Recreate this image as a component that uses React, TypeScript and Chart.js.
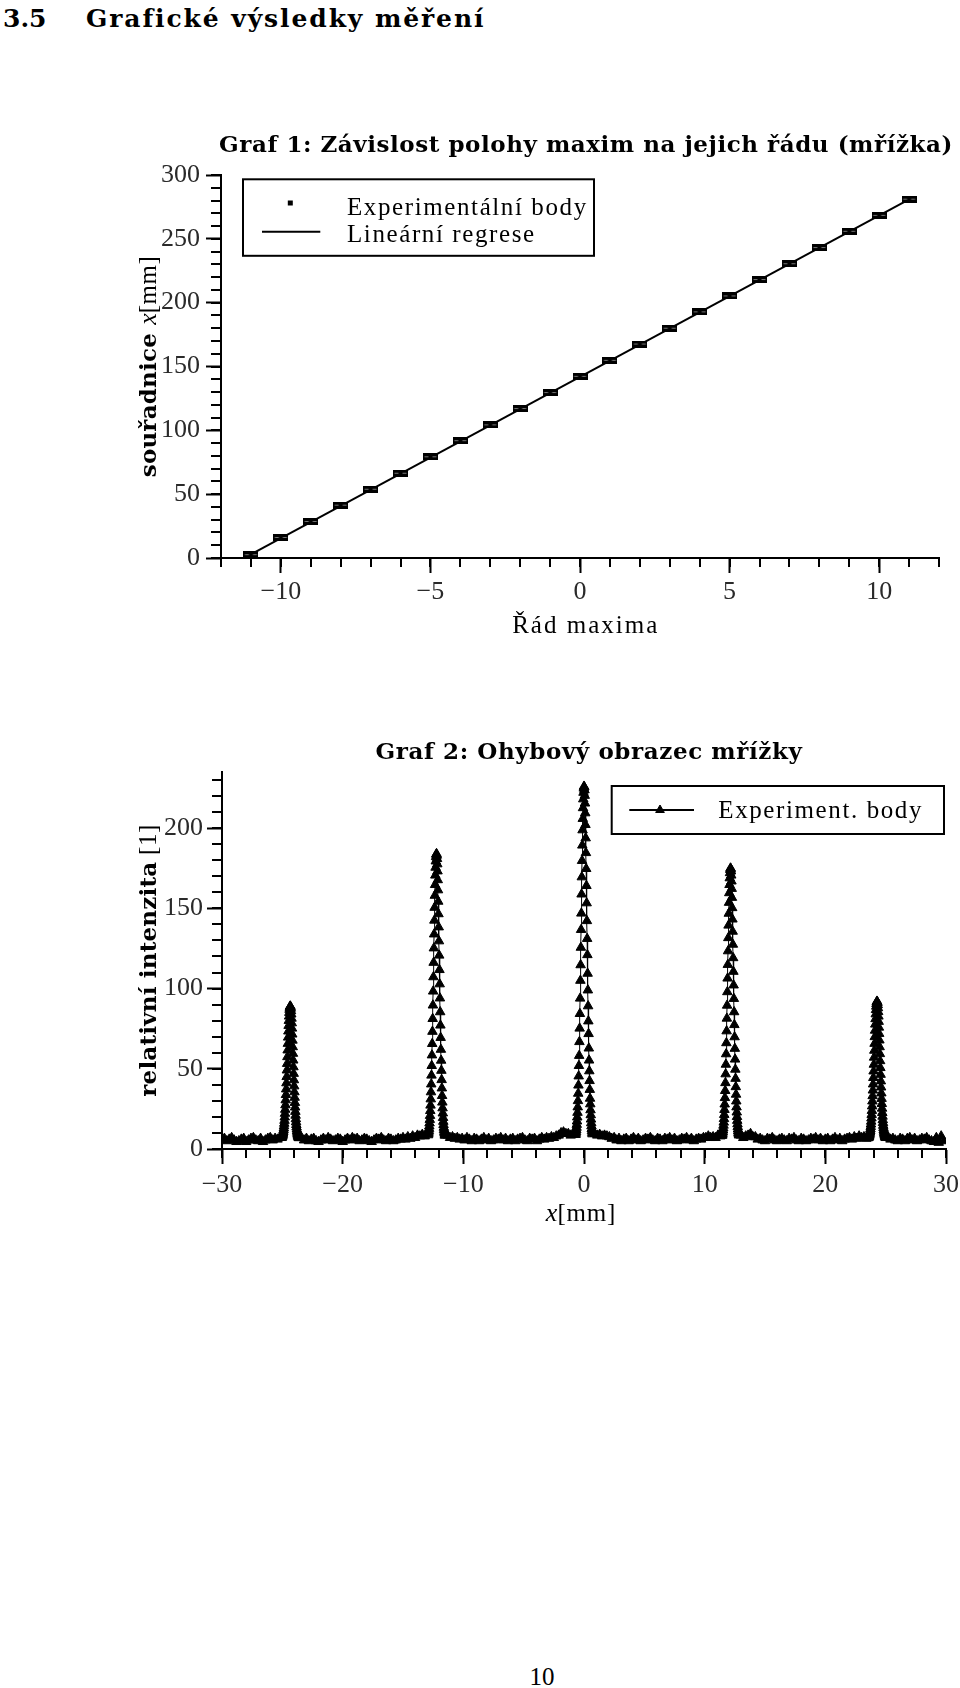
import React, { useEffect, useRef } from 'react';
import { Chart, registerables } from 'chart.js';

Chart.register(...registerables);

// ---------------- Graf 1 : data ----------------
const ORDERS = [-11, -10, -9, -8, -7, -6, -5, -4, -3, -2, -1, 0, 1, 2, 3, 4, 5, 6, 7, 8, 9, 10, 11];
const POSITIONS_MM = [2.6, 16.1, 28.6, 41.4, 53.9, 66.4, 79.3, 91.9, 104.3, 117.1, 129.6, 142.3, 154.8, 167.6, 180.0, 192.8, 205.3, 218.1, 230.5, 243.2, 255.9, 268.4, 281.1];
const REGRESSION_ORDERS = [-11, 11];
const REGRESSION_MM = [2.8, 281.0];
const GRAF1_X_TICKS = [-10, -5, 0, 5, 10];
const GRAF1_Y_TICKS = [0, 50, 100, 150, 200, 250, 300];

// ---------------- Graf 2 : data ----------------
const GRAF2_X_TICKS = [-30, -20, -10, 0, 10, 20, 30];
const GRAF2_Y_TICKS = [0, 50, 100, 150, 200];

const BASE_STEP = 0.2; // mm between background samples
const BASE_1 = [6.5, 5.0, 6.0, 7.0, 5.5, 4.5, 5.0, 6.0, 6.5, 4.5,
  5.5, 6.5, 7.0, 5.5, 5.0, 6.5, 4.5, 5.5, 6.5, 7.0,
  5.5, 6.5, 6.0, 7.0];
const PEAK_M24 = [7.0, 7.3, 7.6, 8.0, 8.5, 9.1, 9.8, 10.7, 11.7, 12.9, 14.3, 15.9, 17.7, 19.8, 22.1, 24.6, 27.4, 30.5,
  33.8, 37.3, 41.1, 45.0, 49.1, 53.2, 57.4, 61.6, 65.7, 69.6, 73.4, 76.9, 80.0, 82.7, 85.0, 86.9, 88.1, 88.8,
  89.0, 88.6, 87.6, 86.0, 84.0, 81.4, 78.5, 75.2, 71.5, 67.7, 63.6, 59.5, 55.3, 51.1, 47.0, 43.0, 39.2, 35.5,
  32.1, 28.9, 26.0, 23.3, 20.9, 18.7, 16.8, 15.1, 13.6, 12.3, 11.2, 10.3, 9.5, 8.8, 8.2, 7.8, 7.4, 7.1, 6.9];
const BASE_2 = [7.0, 5.5, 6.5, 5.0, 6.0, 6.5, 5.0, 4.5, 5.5, 6.5,
  5.5, 7.0, 6.0, 5.0, 5.5, 6.5, 6.0, 4.5, 5.5, 6.5,
  5.5, 7.0, 6.0, 6.5, 5.0, 5.5, 6.5, 6.0, 5.0, 4.5,
  5.5, 6.5, 6.0, 7.0, 5.5, 5.0, 6.5, 6.0, 5.0, 5.5,
  6.5, 6.0, 7.0, 6.0, 7.5, 6.5, 8.0, 7.0, 8.5, 8.0,
  9.0, 8.0];
const PEAK_M12 = [8.7, 9.4, 10.3, 11.4, 12.7, 14.2, 16.1, 18.3, 20.8, 23.8, 27.2, 31.1, 35.5, 40.4, 45.9, 51.9, 58.5, 65.6, 73.2, 81.2,
  89.6, 98.3, 107.2, 116.2, 125.2, 133.9, 142.5, 150.5, 158.0, 164.7, 170.6, 175.5, 179.4, 182.1, 183.6,
  184.0, 183.0, 180.9, 177.6, 173.2, 167.7, 161.4, 154.3, 146.5, 138.3, 129.6, 120.7, 111.7, 102.8, 94.0, 85.4, 77.1, 69.4,
  62.0, 55.2, 48.9, 43.1, 37.9, 33.2, 29.1, 25.5, 22.3, 19.5, 17.1, 15.1, 13.4, 12.0, 10.8, 9.8, 9.0, 8.4];
const BASE_3 = [8.5, 7.0, 7.5, 6.5, 7.0, 6.0, 6.5, 5.5, 7.0, 6.0,
  5.0, 6.5, 6.0, 5.0, 6.0, 7.0, 5.5, 6.5, 5.0, 5.5,
  6.5, 6.0, 7.0, 5.5, 6.5, 5.0, 6.0, 6.5, 5.0, 6.0,
  6.5, 7.0, 5.5, 5.0, 6.5, 6.0, 6.5, 5.0, 6.0, 7.0,
  6.0, 7.0, 6.5, 7.5, 7.0, 8.0, 8.5, 10.0, 10.5, 9.5,
  9.5, 8.5, 9.5];
const PEAK_0 = [8.9, 9.7, 10.7, 11.9, 13.4, 15.2, 17.3, 19.8, 22.7, 26.1, 30.0, 34.6, 39.7, 45.4, 51.9, 58.2, 66.8, 75.2, 84.3, 93.9,
  105.0, 114.7, 125.6, 136.7, 146.9, 158.8, 169.5, 179.7, 189.3, 198.8, 205.9, 212.6, 218.1, 222.2, 224.8, 226.0,
  225.6, 223.7, 220.3, 215.5, 209.4, 202.1, 193.8, 184.6, 174.7, 164.1, 153.3, 142.2, 131.1, 121.0, 109.4, 99.0, 89.1, 79.7,
  71.8, 62.8, 55.3, 48.6, 42.5, 37.0, 31.5, 28.0, 24.3, 21.2, 18.5, 16.2, 14.3, 12.6, 11.3, 10.2, 9.3];
const BASE_4 = [9.5, 8.5, 9.0, 8.0, 8.5, 8.0, 7.5, 6.5, 7.0, 5.5,
  6.5, 5.0, 6.0, 6.5, 5.0, 6.0, 7.0, 5.5, 6.5, 5.0,
  5.5, 6.5, 6.0, 7.0, 5.5, 5.0, 6.5, 6.0, 5.0, 6.5,
  6.0, 7.0, 5.5, 6.5, 5.0, 5.5, 6.5, 6.0, 7.0, 5.5,
  6.5, 5.0, 6.0, 6.5, 6.0, 7.0, 7.0, 8.0, 7.0, 7.5,
  7.0, 8.5, 8.0];
const PEAK_P12 = [8.3, 8.9, 9.6, 10.6, 11.7, 13.0, 14.7, 16.6, 18.8, 21.4, 24.5, 27.9, 31.9, 36.3, 41.2, 46.7, 52.7, 59.2, 66.1, 73.5,
  81.4, 89.5, 97.9, 106.4, 114.9, 123.4, 131.6, 139.4, 146.8, 153.6, 159.6, 164.7, 168.9, 172.1, 174.1, 175.0,
  174.7, 173.2, 170.6, 166.9, 162.3, 156.7, 150.3, 143.2, 135.6, 127.5, 119.1, 110.6, 102.1, 93.7, 85.4, 77.4, 69.8,
  62.6, 55.9, 49.6, 43.9, 38.7, 34.0, 29.8, 26.1, 22.9, 20.1, 17.7, 15.6, 13.8, 12.3, 11.1, 10.1, 9.2, 8.6];
const BASE_5 = [8.5, 7.0, 8.0, 8.5, 9.5, 7.5, 7.5, 6.0, 6.5, 5.5,
  5.0, 6.5, 6.0, 7.0, 5.5, 5.0, 6.0, 6.5, 5.5, 5.0,
  6.5, 6.0, 7.0, 5.5, 5.0, 6.5, 6.0, 5.0, 5.5, 6.5,
  6.0, 7.0, 5.5, 6.5, 5.0, 6.0, 6.5, 5.0, 6.0, 7.0,
  5.5, 6.5, 5.0, 6.0, 6.5, 7.0, 6.0, 7.5, 6.5, 8.0,
  7.0, 7.5, 6.5];
const PEAK_P24 = [6.9, 7.2, 7.5, 7.8, 8.3, 8.9, 9.6, 10.4, 11.4, 12.5, 13.9, 15.4, 17.2, 19.2, 21.4, 23.9, 26.7, 29.8, 33.1,
  36.6, 40.4, 44.4, 48.5, 52.7, 57.1, 61.4, 65.7, 69.9, 73.9, 77.7, 81.1, 84.1, 86.8, 88.9, 90.5, 91.5, 92.0,
  91.8, 91.1, 89.8, 87.9, 85.5, 82.7, 79.4, 75.8, 71.9, 67.8, 63.6, 59.3, 54.9, 50.6, 46.4, 42.3, 38.5, 34.8,
  31.4, 28.2, 25.3, 22.6, 20.3, 18.1, 16.3, 14.6, 13.2, 11.9, 10.9, 10.0, 9.2, 8.6, 8.1, 7.7, 7.3, 7.0];
const BASE_6 = [7.5, 6.0, 6.5, 5.5, 5.0, 6.5, 6.0, 5.0, 6.5, 7.0,
  5.5, 6.5, 5.0, 5.5, 6.5, 6.0, 7.0, 5.5, 5.0, 4.5,
  7.0, 4.0, 8.0, 5.0];

// segment table: start position [mm], sample spacing [mm], intensities
const SEGMENTS = [
  { x0: -29.8, dx: BASE_STEP, y: BASE_1 },
  { x0: -25.06, dx: 0.02, y: PEAK_M24 },
  { x0: -23.4, dx: BASE_STEP, y: BASE_2 },
  { x0: -12.92, dx: 0.02, y: PEAK_M12 },
  { x0: -11.3, dx: BASE_STEP, y: BASE_3 },
  { x0: -0.7, dx: 0.02, y: PEAK_0 },
  { x0: 0.9, dx: BASE_STEP, y: BASE_4 },
  { x0: 11.44, dx: 0.02, y: PEAK_P12 },
  { x0: 13.0, dx: BASE_STEP, y: BASE_5 },
  { x0: 23.56, dx: 0.02, y: PEAK_P24 },
  { x0: 25.2, dx: BASE_STEP, y: BASE_6 },
];

// ---------------- styling ----------------
const SERIF = '"Liberation Serif", serif';
const BOLDSERIF = '"DejaVu Serif", serif';
const TICK_FONT = { family: SERIF, size: 26 };
const TITLE_FONT = `bold 23px ${BOLDSERIF}`;
const AXIS_BOLD = `bold 23px ${BOLDSERIF}`;
const TEXT_FONT = `25px ${SERIF}`;
const ITALIC_FONT = `italic 26px ${SERIF}`;
const LEGEND_LS = 1.6;
const AXIS_LS = 2.0;

type Seg = { t: string; f: string; ls?: number };

function drawRich(ctx: CanvasRenderingContext2D, segs: Seg[], x: number, y: number, align: 'center' | 'left' = 'center', rotate = false) {
  ctx.save();
  ctx.translate(x, y);
  if (rotate) ctx.rotate(-Math.PI / 2);
  ctx.textBaseline = 'alphabetic';
  ctx.textAlign = 'left';
  ctx.fillStyle = '#000';
  const widths = segs.map((s) => {
    ctx.font = s.f;
    (ctx as any).letterSpacing = (s.ls ?? 0) + 'px';
    return ctx.measureText(s.t).width;
  });
  const total = widths.reduce((a, b) => a + b, 0);
  let cx = align === 'left' ? 0 : -total / 2;
  segs.forEach((s, i) => {
    ctx.font = s.f;
    (ctx as any).letterSpacing = (s.ls ?? 0) + 'px';
    ctx.fillText(s.t, cx, 0);
    cx += widths[i];
  });
  ctx.restore();
}

function drawMinorTicks(chart: Chart, axis: 'x' | 'y', step: number, len: number) {
  const s: any = chart.scales[axis];
  const ctx = chart.ctx;
  const ca = chart.chartArea;
  ctx.save();
  ctx.strokeStyle = '#000';
  ctx.lineWidth = 2;
  ctx.beginPath();
  const start = Math.ceil(s.min / step - 1e-9) * step;
  for (let v = start; v <= s.max + 1e-9; v += step) {
    const p = Math.round(s.getPixelForValue(v));
    if (axis === 'x') {
      ctx.moveTo(p, ca.bottom);
      ctx.lineTo(p, ca.bottom + len);
    } else {
      ctx.moveTo(ca.left, p);
      ctx.lineTo(ca.left - len, p);
    }
  }
  ctx.stroke();
  ctx.restore();
}

const fmtTick = (v: number | string) => {
  const n = Number(v);
  return n < 0 ? '\u2212' + Math.abs(n) : String(n);
};

function axisCommon(ticks: number[], tickPad: number, fixed: { w?: number; h?: number }) {
  return {
    type: 'linear' as const,
    afterBuildTicks: (scale: any) => {
      scale.ticks = ticks.map((v) => ({ value: v }));
    },
    afterFit: (scale: any) => {
      if (fixed.w !== undefined) scale.width = fixed.w;
      if (fixed.h !== undefined) scale.height = fixed.h;
      scale.paddingLeft = 0;
      scale.paddingRight = 0;
      scale.paddingTop = 0;
      scale.paddingBottom = 0;
    },
    grid: { display: true, drawOnChartArea: false, drawTicks: true, tickLength: 15, tickWidth: 2, tickColor: '#000' },
    border: { display: true, color: '#000', width: 2 },
    ticks: {
      padding: tickPad,
      font: TICK_FONT,
      color: '#2a2a2a',
      autoSkip: false,
      maxRotation: 0,
      minRotation: 0,
      callback: (v: any) => fmtTick(v),
    },
  };
}

// error-bar glyph used for the measured points of Graf 1
function makeErrorMarker() {
  const c = document.createElement('canvas');
  c.width = 15;
  c.height = 7;
  const g = c.getContext('2d')!;
  g.fillStyle = '#000';
  g.fillRect(0, 0, 15, 7);
  g.fillStyle = '#777';
  g.fillRect(1.5, 3, 12, 1);
  g.fillStyle = '#000';
  g.fillRect(5.5, 2, 4, 3);
  return c;
}

function config1(): any {
  const marker = makeErrorMarker();
  const overlay = {
    id: 'graf1Overlay',
    afterDraw(chart: any) {
      const ctx: CanvasRenderingContext2D = chart.ctx;
      const ca = chart.chartArea;
      drawMinorTicks(chart, 'x', 1, 9);
      drawMinorTicks(chart, 'y', 10, 10);
      drawRich(ctx, [{ t: 'Graf 1: Závislost polohy maxim na jejich řádu (mřížka)', f: TITLE_FONT, ls: 0.55 }], 586, 51.5);
      drawRich(ctx, [{ t: 'Řád maxima', f: TEXT_FONT, ls: AXIS_LS }], 585.7, 532.7);
      drawRich(
        ctx,
        [
          { t: 'souřadnice ', f: AXIS_BOLD, ls: 0.2 },
          { t: 'x', f: ITALIC_FONT },
          { t: '[mm]', f: TEXT_FONT, ls: 0.5 },
        ],
        156,
        (ca.top + ca.bottom) / 2,
        'center',
        true
      );
      // legend
      const bx = ca.left + 22;
      const by = ca.top + 4.3;
      const bw = 351;
      const bh = 76.5;
      ctx.save();
      ctx.fillStyle = '#fff';
      ctx.fillRect(bx, by, bw, bh);
      ctx.strokeStyle = '#000';
      ctx.lineWidth = 2;
      ctx.strokeRect(bx, by, bw, bh);
      ctx.fillStyle = '#000';
      ctx.fillRect(bx + 44.8, by + 21.2, 5, 5);
      ctx.beginPath();
      ctx.moveTo(bx + 19, by + 52.4);
      ctx.lineTo(bx + 77.3, by + 52.4);
      ctx.stroke();
      ctx.restore();
      const ds = chart.data.datasets;
      drawRich(ctx, [{ t: ds[0].label, f: TEXT_FONT, ls: LEGEND_LS }], bx + 104, by + 35.7, 'left');
      drawRich(ctx, [{ t: ds[1].label, f: TEXT_FONT, ls: LEGEND_LS }], bx + 104, by + 62.4, 'left');
    },
  };
  return {
    type: 'scatter',
    data: {
      datasets: [
        {
          label: 'Experimentální body',
          data: ORDERS.map((o, i) => ({ x: o, y: POSITIONS_MM[i] })),
          pointStyle: marker,
          pointRadius: 5,
          showLine: false,
          clip: false,
        },
        {
          label: 'Lineární regrese',
          data: REGRESSION_ORDERS.map((o, i) => ({ x: o, y: REGRESSION_MM[i] })),
          showLine: true,
          borderColor: '#000',
          borderWidth: 2,
          pointRadius: 0,
        },
      ],
    },
    options: {
      animation: false,
      responsive: false,
      events: [],
      layout: { padding: { top: 75, right: 21, bottom: 0, left: 0 } },
      plugins: { legend: { display: false }, tooltip: { enabled: false }, title: { display: false } },
      scales: {
        x: { ...axisCommon(GRAF1_X_TICKS, 4, { h: 102 }), min: -12, max: 12, position: 'bottom' },
        y: { ...axisCommon(GRAF1_Y_TICKS, 6, { w: 221 }), min: 0, max: 300, position: 'left' },
      },
    },
    plugins: [overlay],
  };
}

function config2(): any {
  const points = SEGMENTS.flatMap((s) => s.y.map((v, i) => ({ x: +(s.x0 + i * s.dx).toFixed(3), y: v })));
  const overlay = {
    id: 'graf2Overlay',
    afterDraw(chart: any) {
      const ctx: CanvasRenderingContext2D = chart.ctx;
      const ca = chart.chartArea;
      drawMinorTicks(chart, 'x', 2, 9);
      drawMinorTicks(chart, 'y', 10, 10);
      drawRich(ctx, [{ t: 'Graf 2: Ohybový obrazec mřížky', f: TITLE_FONT, ls: 0.6 }], 589, 59);
      drawRich(ctx, [{ t: 'x', f: ITALIC_FONT }, { t: '[mm]', f: TEXT_FONT, ls: 0.8 }], 581, 521);
      drawRich(
        ctx,
        [
          { t: 'relativní intenzita', f: AXIS_BOLD, ls: 0.2 },
          { t: ' [1]', f: TEXT_FONT, ls: 0.5 },
        ],
        156,
        (ca.top + ca.bottom) / 2,
        'center',
        true
      );
      // legend
      const bx = ca.left + 389.7;
      const by = ca.top + 14;
      const bw = 332.3;
      const bh = 48;
      ctx.save();
      ctx.fillStyle = '#fff';
      ctx.fillRect(bx, by, bw, bh);
      ctx.strokeStyle = '#000';
      ctx.lineWidth = 2;
      ctx.strokeRect(bx, by, bw, bh);
      ctx.beginPath();
      ctx.moveTo(bx + 17.6, by + 24);
      ctx.lineTo(bx + 82.3, by + 24);
      ctx.stroke();
      const tx = bx + 48.3;
      const ty = by + 24;
      ctx.fillStyle = '#000';
      ctx.lineWidth = 1;
      ctx.beginPath();
      ctx.moveTo(tx, ty - 5);
      ctx.lineTo(tx + 4.33, ty + 2.5);
      ctx.lineTo(tx - 4.33, ty + 2.5);
      ctx.closePath();
      ctx.fill();
      ctx.stroke();
      ctx.restore();
      drawRich(ctx, [{ t: chart.data.datasets[0].label, f: TEXT_FONT, ls: LEGEND_LS }], bx + 106.6, by + 32.3, 'left');
    },
  };
  return {
    type: 'scatter',
    data: {
      datasets: [
        {
          label: 'Experiment. body',
          data: points,
          showLine: true,
          borderColor: '#000',
          borderWidth: 1,
          pointStyle: 'triangle',
          pointRadius: 5.5,
          pointBackgroundColor: '#000',
          pointBorderColor: '#000',
          pointBorderWidth: 1,
        },
      ],
    },
    options: {
      animation: false,
      responsive: false,
      events: [],
      layout: { padding: { top: 72, right: 14, bottom: 0, left: 0 } },
      plugins: { legend: { display: false }, tooltip: { enabled: false }, title: { display: false } },
      scales: {
        x: { ...axisCommon(GRAF2_X_TICKS, 6, { h: 111 }), min: -30, max: 30, position: 'bottom' },
        y: { ...axisCommon(GRAF2_Y_TICKS, 4, { w: 222 }), min: 0, max: 235, position: 'left' },
      },
    },
    plugins: [overlay],
  };
}

export default function App() {
  const c1 = useRef<HTMLCanvasElement>(null);
  const c2 = useRef<HTMLCanvasElement>(null);

  useEffect(() => {
    const ch1 = new Chart(c1.current!, config1());
    const ch2 = new Chart(c2.current!, config2());
    return () => {
      ch1.destroy();
      ch2.destroy();
    };
  }, []);

  const headStyle: React.CSSProperties = {
    position: 'absolute',
    top: 5.5,
    fontFamily: BOLDSERIF,
    fontWeight: 'bold',
    fontSize: 25,
    lineHeight: 1,
    whiteSpace: 'nowrap',
    color: '#000',
  };

  return (
    <div style={{ position: 'absolute', left: 0, top: 0, width: 960, height: 1688, background: '#fff', overflow: 'hidden' }}>
      <div style={{ ...headStyle, left: 3 }}>3.5</div>
      <div style={{ ...headStyle, left: 86, letterSpacing: '1.9px' }}>Grafické výsledky měření</div>
      <canvas ref={c1} width={960} height={560} style={{ position: 'absolute', left: 0, top: 100, display: 'block' }} />
      <canvas ref={c2} width={960} height={560} style={{ position: 'absolute', left: 0, top: 700, display: 'block' }} />
      <div
        style={{
          position: 'absolute',
          left: 542,
          top: 1664,
          transform: 'translateX(-50%)',
          fontFamily: SERIF,
          fontSize: 25,
          lineHeight: 1,
          color: '#000',
        }}
      >
        10
      </div>
    </div>
  );
}
